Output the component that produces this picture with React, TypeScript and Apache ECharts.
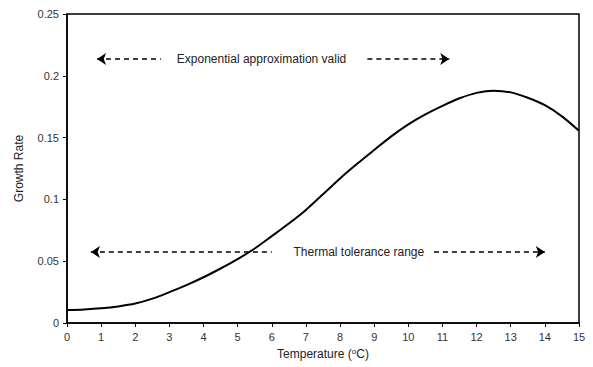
import React, { useEffect, useRef } from "react";
import * as echarts from "echarts";

const temps = [0, 0.5, 1, 1.5, 2, 2.5, 3, 3.5, 4, 4.5, 5, 5.5, 6, 6.5, 7, 7.5, 8, 8.5, 9, 9.5, 10, 10.5, 11, 11.5, 12, 12.5, 13, 13.5, 14, 14.5, 15];
const growth = [0.0105, 0.011, 0.0119, 0.0134, 0.0157, 0.0197, 0.025, 0.0307, 0.037, 0.0441, 0.0517, 0.0603, 0.0703, 0.0805, 0.0915, 0.1042, 0.117, 0.1288, 0.14, 0.151, 0.1607, 0.1688, 0.1757, 0.1818, 0.1862, 0.188, 0.1866, 0.1822, 0.1762, 0.1672, 0.1555];

const topArrowY = 0.2135;
const topLeftSeg = [0.88, 2.75];
const topRightSeg = [8.8, 11.2];
const topText = "Exponential approximation valid";
const topTextX = 5.7;

const botArrowY = 0.0575;
const botLeftSeg = [0.7, 6.0];
const botRightSeg = [10.75, 14.0];
const botText = "Thermal tolerance range";
const botTextX = 8.55;

export default function App() {
  const ref = useRef<HTMLDivElement>(null);
  useEffect(() => {
    const chart = echarts.init(ref.current!, undefined, { renderer: "svg" });
    const font = "Liberation Sans, Arial, sans-serif";
    const dashed = { color: "#000", type: [5, 4] as any, width: 1.5 };
    const seg = (a: number[], y: number, leftArrow: boolean) => [
      { coord: [a[0], y], symbol: leftArrow ? "arrow" : "none", symbolSize: 9 },
      { coord: [a[1], y], symbol: leftArrow ? "none" : "arrow", symbolSize: 9 },
    ];
    chart.setOption({
      animation: false,
      grid: { left: 67, right: 14, top: 14, bottom: 44, show: true, borderColor: "#000", borderWidth: 1.5, backgroundColor: "transparent" },
      xAxis: {
        type: "value",
        min: 0,
        max: 15,
        interval: 1,
        name: "Temperature ({sup|o}C)",
        nameLocation: "middle",
        nameGap: 24,
        nameTextStyle: {
          fontFamily: font,
          fontSize: 12,
          color: "#222",
          rich: { sup: { fontSize: 8, verticalAlign: "top", padding: [0, 0, 6, 0], fontFamily: font, color: "#222" } },
        },
        axisLine: { lineStyle: { color: "#000", width: 1.5 } },
        axisTick: { show: true, length: 4, lineStyle: { color: "#000" } },
        axisLabel: { fontFamily: font, fontSize: 11, color: "#333", margin: 8 },
        splitLine: { show: false },
      },
      yAxis: {
        type: "value",
        min: 0,
        max: 0.25,
        interval: 0.05,
        name: "Growth Rate",
        nameLocation: "middle",
        nameGap: 42,
        nameRotate: 90,
        nameTextStyle: { fontFamily: font, fontSize: 12, color: "#222" },
        axisLine: { show: true, lineStyle: { color: "#000", width: 1.5 } },
        axisTick: { show: true, length: 4, lineStyle: { color: "#000" } },
        axisLabel: { fontFamily: font, fontSize: 11, color: "#333", margin: 8, formatter: (v: number) => String(+v.toFixed(2)) },
        splitLine: { show: false },
      },
      series: [
        {
          type: "line",
          data: temps.map((t, i) => [t, growth[i]]),
          smooth: 0.3,
          symbol: "none",
          lineStyle: { color: "#000", width: 2 },
          z: 3,
          markLine: {
            silent: true,
            lineStyle: dashed,
            label: { show: false },
            data: [
              seg(topLeftSeg, topArrowY, true),
              seg(topRightSeg, topArrowY, false),
              seg(botLeftSeg, botArrowY, true),
              seg(botRightSeg, botArrowY, false),
            ] as any,
          },
          markPoint: {
            silent: true,
            symbol: "circle",
            symbolSize: 0,
            label: { show: true, position: "inside", fontFamily: font, fontSize: 12, color: "#222" },
            data: [
              { coord: [topTextX, topArrowY], value: topText, label: { formatter: topText } },
              { coord: [botTextX, botArrowY], value: botText, label: { formatter: botText } },
            ],
          },
        },
      ],
    });
    return () => chart.dispose();
  }, []);
  return <div ref={ref} style={{ width: 593, height: 367, position: "absolute", left: 0, top: 0 }} />;
}
